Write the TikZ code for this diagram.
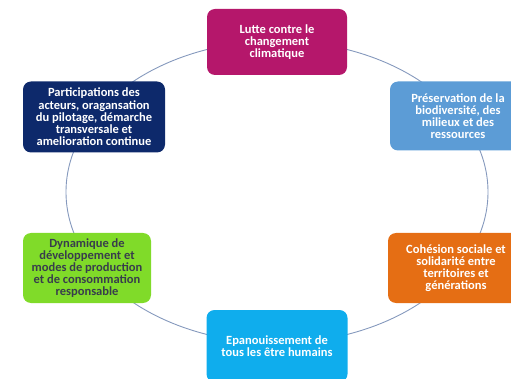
\documentclass[tikz,border=0pt]{standalone}
\usepackage{fontspec}
\setmainfont{Carlito}
\usetikzlibrary{positioning}
\definecolor{ringgray}{rgb}{0.52,0.60,0.74}
\definecolor{climat}{rgb}{0.71,0.09,0.42}
\definecolor{biodiv}{rgb}{0.36,0.61,0.84}
\definecolor{cohesion}{rgb}{0.90,0.43,0.08}
\definecolor{epanou}{rgb}{0.06,0.68,0.93}
\definecolor{dynamique}{rgb}{0.50,0.86,0.16}
\definecolor{pilotage}{rgb}{0.05,0.16,0.42}
\definecolor{darktext}{rgb}{0.22,0.24,0.30}
\tikzset{
  axe/.style={rounded corners=8pt, align=center, text=white,
    font=\fontsize{12.5}{12.2}\selectfont\bfseries, inner sep=0pt}
}

\begin{document}
\begin{tikzpicture}[line cap=round,line join=round,x=1pt,y=-1pt]
\useasboundingbox (0,0) rectangle (511,379);
\clip (0,0) rectangle (511,379);
\coordinate (centre) at (277,192);
\draw [color=ringgray, line width=0.9pt] (centre) ellipse [x radius=211, y radius=151];
\node[axe, fill=climat, minimum width=140pt, minimum height=66pt] (lutte) at (277,42) {Lutte contre le\\changement\\climatique};
\node[axe, fill=biodiv, minimum width=136pt, minimum height=69pt] (preserv) at (458,116) {Préservation de la\\biodiversité, des\\milieux et des\\ressources};
\node[axe, fill=cohesion, minimum width=136pt, minimum height=70pt] (cohes) at (456,268) {Cohésion sociale et\\solidarité entre\\territoires et\\générations};
\node[axe, fill=epanou, minimum width=141pt, minimum height=72pt] (epan) at (277,346) {Epanouissement de\\tous les être humains};
\node[axe, fill=dynamique, text=darktext, minimum width=128pt, minimum height=70pt] (dyna) at (87,268) {Dynamique de\\développement et\\modes de production\\et de consommation\\responsable};
\node[axe, fill=pilotage, minimum width=142pt, minimum height=71pt] (partic) at (94,117) {Participations des\\acteurs, oragansation\\du pilotage, démarche\\transversale et\\amelioration continue};
\end{tikzpicture}
\end{document}
